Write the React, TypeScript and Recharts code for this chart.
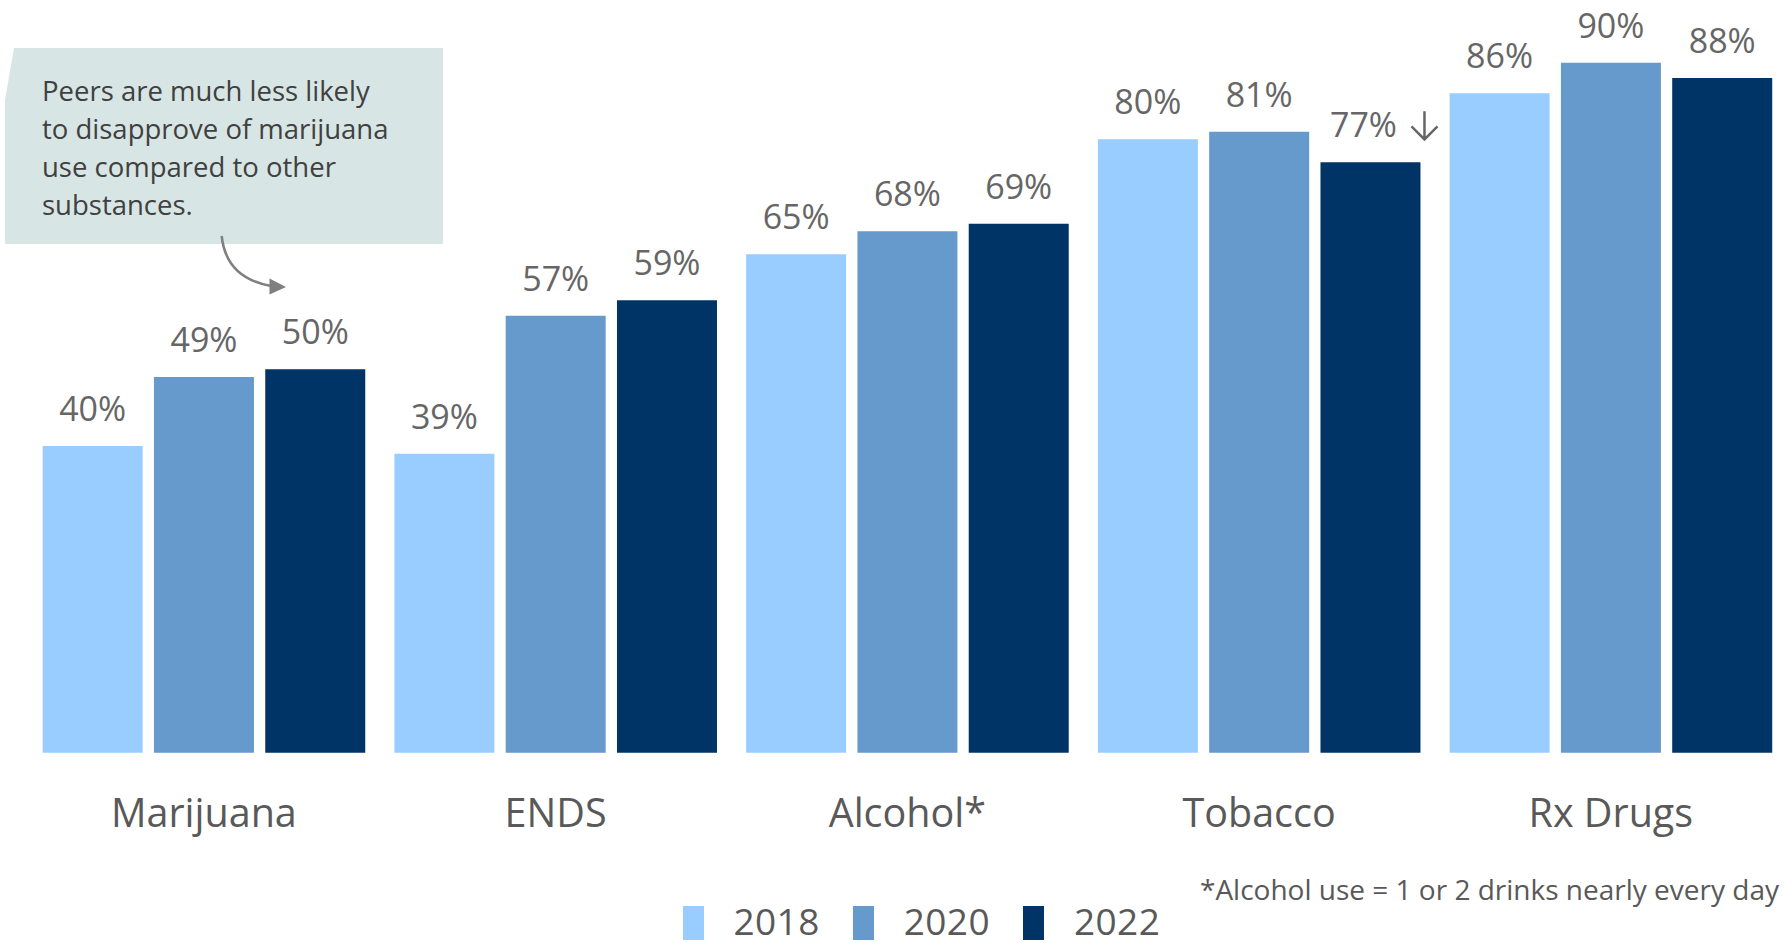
import React from 'react';
import { BarChart, Bar, XAxis, YAxis, LabelList, Legend, Customized } from 'recharts';

const categories = ['Marijuana', 'ENDS', 'Alcohol*', 'Tobacco', 'Rx Drugs'];
const values2018 = [40, 39, 65, 80, 86];
const values2020 = [49, 57, 68, 81, 90];
const values2022 = [50, 59, 69, 77, 88];
const downArrow2022 = [false, false, false, true, false];
const seriesNames = ['2018', '2020', '2022'];
const seriesColors = ['#99CCFF', '#6699CC', '#003366'];
const calloutLines = [
  'Peers are much less likely',
  'to disapprove of marijuana',
  'use compared to other',
  'substances.',
];
const footnote = '*Alcohol use = 1 or 2 drinks nearly every day';

const data = categories.map((c, i) => ({
  name: c,
  y2018: values2018[i],
  y2020: values2020[i],
  y2022: values2022[i],
  arrow: downArrow2022[i],
}));

const FONT = '"Open Sans", sans-serif';

const makeLabel = (withArrow: boolean) => (props: any) => {
  const { x, y, width, value, index } = props;
  const cx = Number(x) + Number(width) / 2;
  const ty = Number(y) - 25;
  const hasArrow = withArrow && downArrow2022[index];
  if (hasArrow) {
    const ax = cx + 54;
    return (
      <g>
        <text x={cx - 7} y={ty} textAnchor="middle" fontFamily={FONT} fontSize={34} fill="#666666">
          {`${value}%`}
        </text>
        <path
          d={`M${ax} ${ty - 26} L${ax} ${ty + 2} M${ax - 13} ${ty - 11} L${ax} ${ty + 2} L${ax + 13} ${ty - 11}`}
          stroke="#666666"
          strokeWidth={2.5}
          fill="none"
        />
      </g>
    );
  }
  return (
    <text x={cx} y={ty} textAnchor="middle" fontFamily={FONT} fontSize={34} fill="#666666">
      {`${value}%`}
    </text>
  );
};

const Annotation = () => (
  <g>
    <path d="M14 48 L443 48 L443 244 L5 244 L5 100 Z" fill="#D7E6E5" />
    {calloutLines.map((l, i) => (
      <text key={i} x={42} y={100.7 + i * 38.1} fontFamily={FONT} fontSize={27.5} fill="#404040">
        {l}
      </text>
    ))}
    <path d="M221.7 236 Q226 278 271 286" stroke="#7F7F7F" strokeWidth={2.5} fill="none" />
    <path d="M286 287 L269.5 278.5 L269.5 294.5 Z" fill="#7F7F7F" />
    <text x={1779} y={900} textAnchor="end" fontFamily={FONT} fontSize={28} fill="#595959">
      {footnote}
    </text>
  </g>
);

const renderLegend = () => (
  <div
    style={{
      display: 'flex',
      alignItems: 'flex-start',
      fontFamily: FONT,
      fontSize: 37,
      letterSpacing: '0.4px',
      color: '#595959',
      lineHeight: '37px',
    }}
  >
    {seriesNames.map((n, i) => (
      <div key={n} style={{ display: 'flex', alignItems: 'flex-start', marginRight: 33 }}>
        <div style={{ width: 21, height: 34, marginTop: 4, background: seriesColors[i], marginRight: 30 }} />
        <span>{n}</span>
      </div>
    ))}
  </div>
);

export default function App() {
  return (
    <div style={{ position: 'absolute', left: 0, top: 0, width: 1787, height: 943, background: '#fff' }}>
      <BarChart
        width={1787}
        height={943}
        data={data}
        margin={{ top: 16.7, right: 0.3, left: 28, bottom: 0 }}
        barGap={11.3}
        barCategoryGap={14.65}
      >
        <XAxis
          dataKey="name"
          axisLine={false}
          tickLine={false}
          tickSize={0}
          tickMargin={46.3}
          height={190.3}
          interval={0}
          tick={{ fill: '#595959', fontSize: 39.5, fontFamily: FONT }}
        />
        <YAxis hide domain={[0, 96]} />
        <Legend
          layout="horizontal"
          verticalAlign="middle"
          align="center"
          content={renderLegend}
          wrapperStyle={{ left: 682.5, top: 902, width: 560, height: 37 }}
        />
        <Bar dataKey="y2018" name="2018" fill={seriesColors[0]} isAnimationActive={false}>
          <LabelList dataKey="y2018" content={makeLabel(false)} />
        </Bar>
        <Bar dataKey="y2020" name="2020" fill={seriesColors[1]} isAnimationActive={false}>
          <LabelList dataKey="y2020" content={makeLabel(false)} />
        </Bar>
        <Bar dataKey="y2022" name="2022" fill={seriesColors[2]} isAnimationActive={false}>
          <LabelList dataKey="y2022" content={makeLabel(true)} />
        </Bar>
        <Customized component={Annotation} />
      </BarChart>
    </div>
  );
}
